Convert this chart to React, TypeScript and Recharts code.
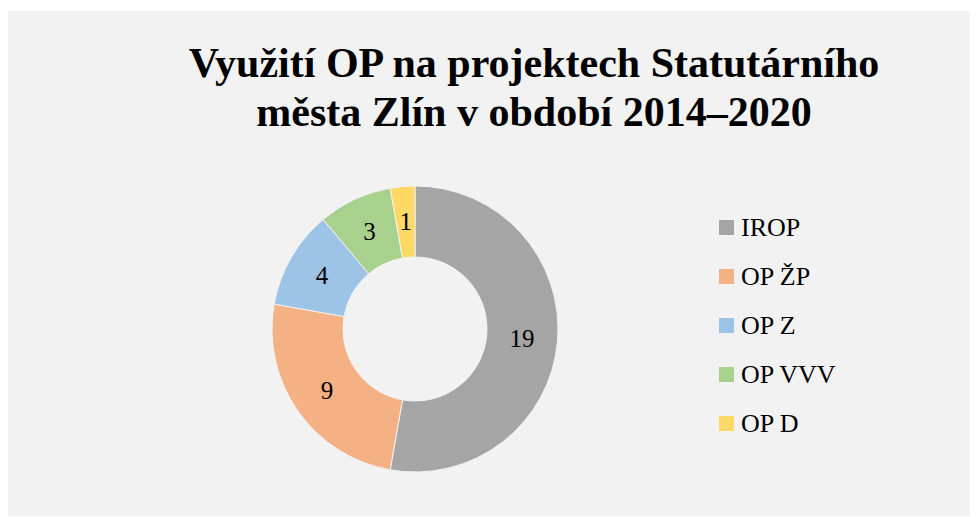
import { PieChart, Pie, Cell, Legend } from "recharts";

const programs = ["IROP", "OP ŽP", "OP Z", "OP VVV", "OP D"];
const projectCounts = [19, 9, 4, 3, 1];
const sliceColors = ["#a5a5a5", "#f4b183", "#9dc3e6", "#a9d18e", "#ffd966"];

const data = programs.map((name, i) => ({ name, value: projectCounts[i] }));

const RADIAN = Math.PI / 180;
const SERIF = "'Times New Roman', 'Liberation Serif', 'DejaVu Serif', serif";

const renderLabel = (props: any) => {
  const { cx, cy, midAngle, innerRadius, outerRadius, value } = props;
  const r = (innerRadius + outerRadius) / 2;
  const x = cx + r * Math.cos(-midAngle * RADIAN);
  const y = cy + r * Math.sin(-midAngle * RADIAN);
  return (
    <text
      x={x}
      y={y}
      textAnchor="middle"
      dominantBaseline="central"
      fill="#000"
      fontSize={25}
      style={{ fontFamily: SERIF }}
    >
      {value}
    </text>
  );
};

const renderLegend = () => (
  <div style={{ fontFamily: SERIF }}>
    {data.map((d, i) => (
      <div
        key={d.name}
        style={{ display: "flex", alignItems: "center", height: 49, fontSize: 26, color: "#000" }}
      >
        <span
          style={{
            width: 15,
            height: 15,
            background: sliceColors[i],
            marginRight: 7,
            display: "inline-block",
          }}
        />
        {d.name}
      </div>
    ))}
  </div>
);

export default function App() {
  return (
    <div style={{ position: "relative", width: 970, height: 505, marginTop: 3, background: "#f2f2f2" }}>
      <div
        style={{
          position: "absolute",
          left: 0,
          top: 28,
          width: 1052,
          textAlign: "center",
          fontFamily: SERIF,
          fontWeight: "bold",
          fontSize: 42,
          lineHeight: "49px",
          color: "#000",
        }}
      >
        Využití OP na projektech Statutárního
        <br />
        města Zlín v období 2014–2020
      </div>
      <PieChart
        width={970}
        height={505}
        margin={{ top: 0, right: 0, bottom: 0, left: 0 }}
        style={{ position: "absolute", left: 0, top: 0 }}
      >
        <Pie
          data={data}
          dataKey="value"
          nameKey="name"
          cx={407}
          cy={318}
          innerRadius={72}
          outerRadius={143}
          startAngle={90}
          endAngle={-270}
          stroke="#f2f2f2"
          strokeWidth={1}
          label={renderLabel}
          labelLine={false}
          isAnimationActive={false}
        >
          {data.map((d, i) => (
            <Cell key={d.name} fill={sliceColors[i]} />
          ))}
        </Pie>
        <Legend
          content={renderLegend}
          layout="vertical"
          wrapperStyle={{ position: "absolute", left: 711, top: 192, width: 200 }}
        />
      </PieChart>
    </div>
  );
}
